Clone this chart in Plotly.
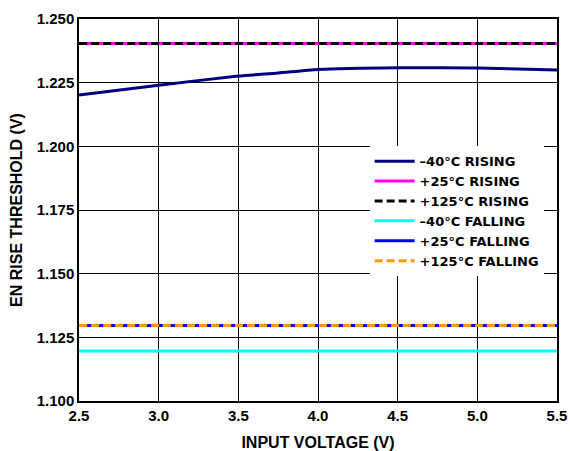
import plotly.graph_objects as go

# input voltage sample points
vin = [2.5, 3.0, 3.5, 3.75, 4.0, 4.5, 5.0, 5.5]

# threshold readings (V)
rise_m40 = [1.2202, 1.2240, 1.2276, 1.2288, 1.2302, 1.2309, 1.2308, 1.2300]
rise_p25 = [1.2404] * len(vin)
rise_p125 = [1.2404] * len(vin)
fall_m40 = [1.1196] * len(vin)
fall_p25 = [1.1296] * len(vin)
fall_p125 = [1.1296] * len(vin)

names = ["–40°C RISING", "+25°C RISING", "+125°C RISING",
         "–40°C FALLING", "+25°C FALLING", "+125°C FALLING"]
series = [rise_m40, rise_p25, rise_p125, fall_m40, fall_p25, fall_p125]
colors = ["#000080", "#ff00ff", "#000000", "#00ffff", "#0000ff", "#ff9900"]
dashes = ["solid", "solid", "8px,4px", "solid", "solid", "8px,4px"]

x_ticks = [2.5, 3.0, 3.5, 4.0, 4.5, 5.0, 5.5]
y_ticks = [1.100, 1.125, 1.150, 1.175, 1.200, 1.225, 1.250]

fig = go.Figure()
for nm, ys, c, d in zip(names, series, colors, dashes):
    fig.add_trace(go.Scatter(
        x=vin, y=ys, name="<b>" + nm + "</b>", mode="lines",
        line=dict(color=c, width=3, dash=d, shape="spline", smoothing=0.6),
    ))

tick_font = dict(family="Liberation Sans, Arial", size=15, color="black")
title_font = dict(family="Liberation Sans, Arial", size=16, color="black")

fig.update_layout(
    width=570, height=451,
    margin=dict(l=79, r=13, t=19, b=50),
    paper_bgcolor="white", plot_bgcolor="white",
    font=tick_font,
    showlegend=True,
    legend=dict(
        x=0.608, y=0.667, xanchor="left", yanchor="top",
        bgcolor="white", borderwidth=0,
        font=dict(family="DejaVu Sans", size=13, color="black"),
        tracegroupgap=0, itemwidth=40,
    ),
)
fig.update_xaxes(
    range=[2.5, 5.5], tickvals=x_ticks,
    ticktext=["<b>%.1f</b>" % v for v in x_ticks],
    tickfont=tick_font, automargin=False,
    showgrid=True, gridcolor="black", gridwidth=1,
    showline=True, linecolor="black", linewidth=1.5, mirror=True,
    zeroline=False, ticks="", ticklen=0,
    title=dict(text="<b>INPUT VOLTAGE (V)</b>", font=title_font, standoff=14),
)
fig.update_yaxes(
    range=[1.100, 1.250], tickvals=y_ticks,
    ticktext=["<b>%.3f</b>" % v for v in y_ticks],
    tickfont=tick_font, automargin=False,
    showgrid=True, gridcolor="black", gridwidth=1,
    showline=True, linecolor="black", linewidth=1.5, mirror=True,
    zeroline=False, ticks="", ticklen=0,
    title=dict(text="<b>EN RISE THRESHOLD (V)</b>", font=title_font, standoff=10),
)

# drop the default body margin so the figure fills the window exactly
fig.write_html("out.html", config={"displayModeBar": False},
               post_script="document.body.style.margin = '0';")
